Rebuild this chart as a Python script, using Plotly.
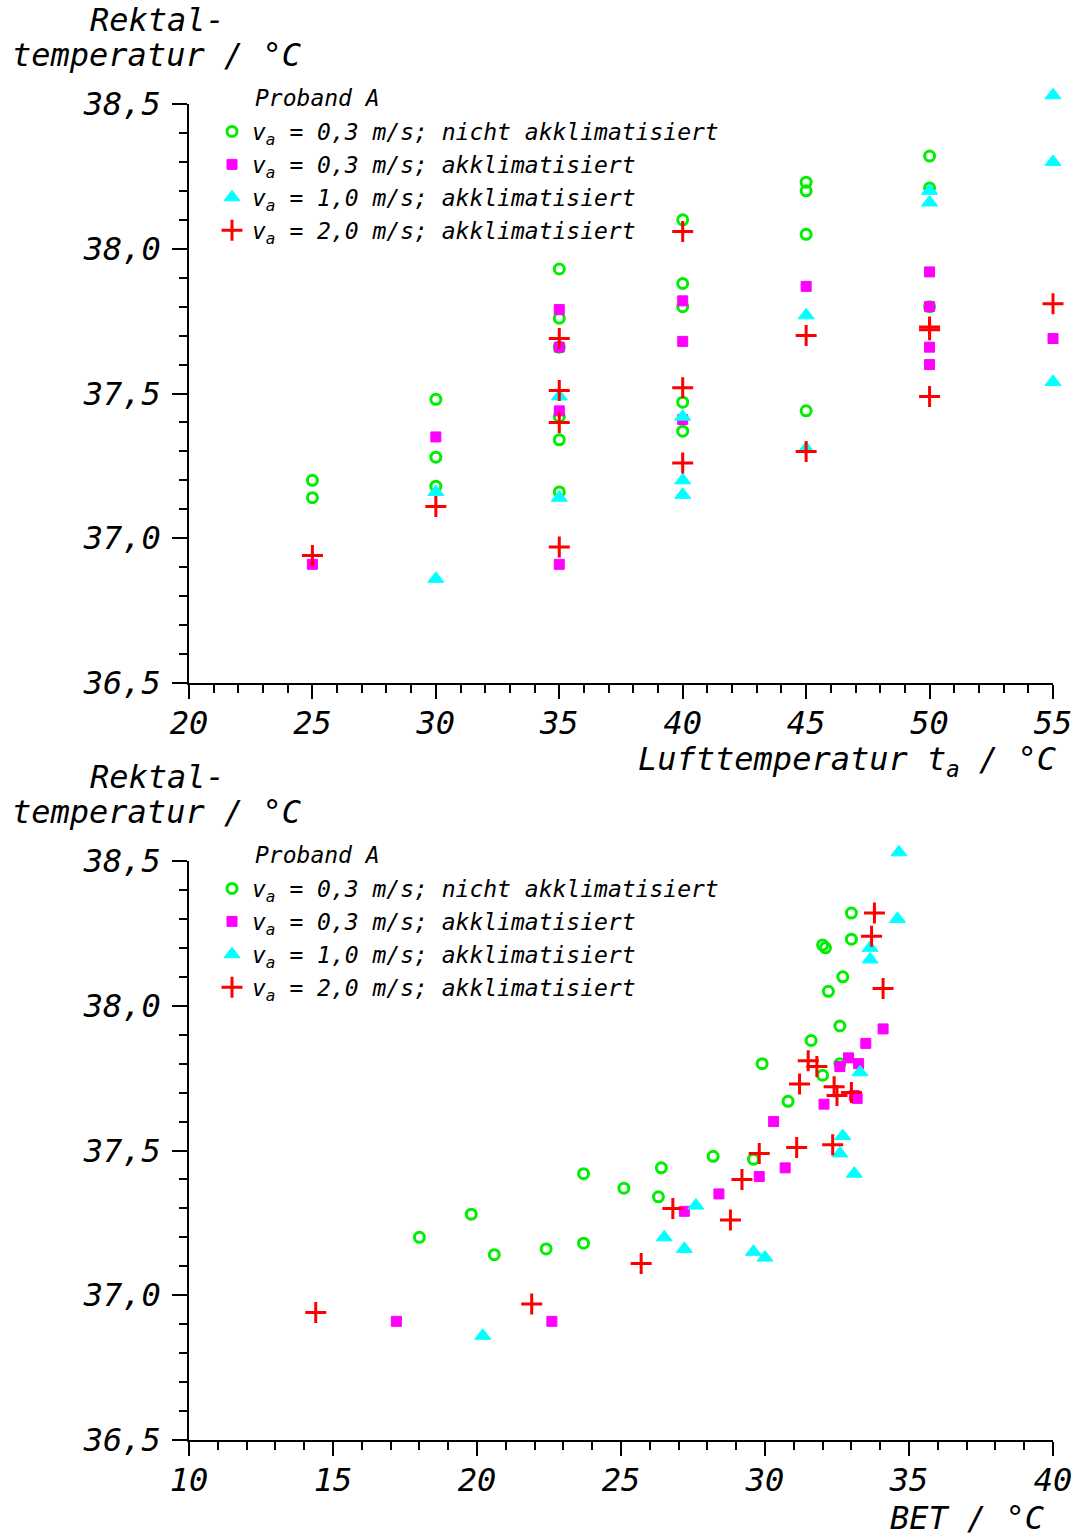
import plotly.graph_objects as go

# ---------------- data: Proband A ----------------
# Upper panel: rectal temperature vs. air temperature t_a
ta_gruen = [25, 25, 30, 30, 30, 35, 35, 35, 35, 35, 35, 40, 40, 40, 40, 40,
            45, 45, 45, 45, 50, 50, 50]
tre_gruen_ta = [37.20, 37.14, 37.48, 37.28, 37.18, 37.93, 37.76, 37.66, 37.42, 37.34, 37.16,
                38.10, 37.88, 37.80, 37.47, 37.37, 38.23, 38.20, 38.05, 37.44,
                38.32, 38.21, 37.80]

ta_magenta = [25, 30, 35, 35, 35, 35, 40, 40, 40, 45, 50, 50, 50, 50, 55]
tre_magenta_ta = [36.91, 37.35, 37.79, 37.66, 37.44, 36.91, 37.82, 37.68, 37.41, 37.87,
                  37.92, 37.80, 37.66, 37.60, 37.69]

ta_cyan = [30, 30, 35, 35, 40, 40, 40, 45, 45, 50, 50, 55, 55, 55]
tre_cyan_ta = [37.16, 36.86, 37.49, 37.14, 37.42, 37.20, 37.15, 37.77, 37.31,
               38.20, 38.16, 38.53, 38.30, 37.54]

ta_rot = [25, 30, 35, 35, 35, 35, 40, 40, 40, 45, 45, 50, 50, 50, 55]
tre_rot_ta = [36.94, 37.11, 37.69, 37.51, 37.40, 36.97, 38.06, 37.52, 37.26, 37.70, 37.30,
              37.73, 37.72, 37.49, 37.81]

# Lower panel: rectal temperature vs. BET
bet_gruen = [18.0, 19.8, 20.6, 22.4, 23.7, 23.7, 25.1, 26.3, 26.4, 28.2, 29.6, 29.9,
             30.8, 31.6, 32.0, 32.2, 32.6, 32.7, 32.0, 32.1, 33.0, 33.0, 32.6]
tre_gruen_bet = [37.20, 37.28, 37.14, 37.16, 37.42, 37.18, 37.37, 37.34, 37.44, 37.48, 37.47, 37.80,
                 37.67, 37.88, 37.76, 38.05, 37.93, 38.10, 38.21, 38.20, 38.23, 38.32, 37.80]

bet_magenta = [17.2, 22.6, 27.2, 28.4, 29.8, 30.7, 30.3, 32.05, 33.2, 33.1, 32.6, 33.25,
               32.9, 33.5, 34.1]
tre_magenta_bet = [36.91, 36.91, 37.29, 37.35, 37.41, 37.44, 37.60, 37.66, 37.68, 37.69, 37.79, 37.80,
                   37.82, 37.87, 37.92]

bet_cyan = [20.2, 26.5, 27.2, 27.6, 29.6, 30.0, 33.1, 32.6, 32.7, 33.3, 33.65, 33.65, 34.6, 34.65]
tre_cyan_bet = [36.86, 37.20, 37.16, 37.31, 37.15, 37.13, 37.42, 37.49, 37.55, 37.77,
                38.16, 38.20, 38.30, 38.53]

bet_rot = [14.4, 21.9, 25.7, 26.8, 28.8, 29.2, 29.8, 31.1, 32.35, 31.2, 32.4, 32.5, 33.0,
           31.5, 31.8, 34.1, 33.7, 33.8]
tre_rot_bet = [36.94, 36.97, 37.11, 37.30, 37.26, 37.40, 37.49, 37.51, 37.52, 37.73, 37.72, 37.69, 37.70,
               37.81, 37.79, 38.06, 38.24, 38.32]

legend_names = [
    "v<sub>a</sub> = 0,3 m/s; nicht akklimatisiert",
    "v<sub>a</sub> = 0,3 m/s; akklimatisiert",
    "v<sub>a</sub> = 1,0 m/s; akklimatisiert",
    "v<sub>a</sub> = 2,0 m/s; akklimatisiert",
]

# ---------------- styles ----------------
W, H = 1086, 1535
FONT = "DejaVu Sans Mono"

marker_styles = [
    dict(symbol="circle-open", size=10, color="#00ee00", line=dict(color="#00ee00", width=3)),
    dict(symbol="square", size=10, color="#ff00ff", line=dict(color="#ff00ff", width=1)),
    dict(symbol="triangle-up", size=14, color="#00ffff", line=dict(color="#00ffff", width=1)),
    dict(symbol="cross-thin", size=15, color="#ff0000", line=dict(color="#ff0000", width=3)),
]


def px_x(x):
    return x / W


def px_y(y):
    return 1 - y / H


# plot-area geometry in pixels
X0, X1 = 189, 1053
TOP_Y0, TOP_Y1 = 683, 104
BOT_Y0, BOT_Y1 = 1440, 861
Y_LO, Y_HI = 36.5, 38.5
Y_PAD = 0.1  # markers may sit just above 38,5 -> draw them on a slightly wider hidden scale

fig = go.Figure()

# empty traces so that the two framed subplots (axes, ticks, labels) get drawn
for xa, ya in (("x", "y"), ("x2", "y2")):
    fig.add_trace(go.Scatter(x=[], y=[], mode="markers", xaxis=xa, yaxis=ya,
                             showlegend=False, hoverinfo="skip"))

top_series = [(ta_gruen, tre_gruen_ta), (ta_magenta, tre_magenta_ta),
              (ta_cyan, tre_cyan_ta), (ta_rot, tre_rot_ta)]
bottom_series = [(bet_gruen, tre_gruen_bet), (bet_magenta, tre_magenta_bet),
                 (bet_cyan, tre_cyan_bet), (bet_rot, tre_rot_bet)]

for (xs, ys), name, mk in zip(top_series, legend_names, marker_styles):
    fig.add_trace(go.Scatter(x=xs, y=ys, mode="markers", name=name, marker=mk,
                             xaxis="x3", yaxis="y3", legend="legend", cliponaxis=False))

for (xs, ys), name, mk in zip(bottom_series, legend_names, marker_styles):
    fig.add_trace(go.Scatter(x=xs, y=ys, mode="markers", name=name, marker=mk,
                             xaxis="x4", yaxis="y4", legend="legend2", cliponaxis=False))

tick_font = dict(family=FONT, size=32, color="black", style="italic")


def xaxis_cfg(lo, hi, dom, anchor):
    return dict(range=[lo, hi], domain=dom, anchor=anchor, tickmode="linear", tick0=lo, dtick=5,
                ticks="outside", ticklen=14, tickwidth=1.5, tickcolor="black",
                minor=dict(dtick=1, ticks="outside", ticklen=8, tickwidth=1.5, tickcolor="black"),
                showline=True, linecolor="black", linewidth=1.5, showgrid=False, zeroline=False,
                tickfont=tick_font, ticklabelstandoff=-3, automargin=False, fixedrange=True)


def yaxis_cfg(dom, anchor):
    return dict(range=[Y_LO, Y_HI], domain=dom, anchor=anchor, tickmode="linear", tick0=Y_LO, dtick=0.5,
                tickformat=".1f", ticks="outside", ticklen=15, tickwidth=1.5, tickcolor="black",
                minor=dict(dtick=0.1, ticks="outside", ticklen=8, tickwidth=1.5, tickcolor="black"),
                showline=True, linecolor="black", linewidth=1.5, showgrid=False, zeroline=False,
                tickfont=tick_font, ticklabelstandoff=5, automargin=False, fixedrange=True)


def hidden_x(lo, hi, anchor):
    # same scale as the visible x axis, one unit wider on each side
    ppu = (X1 - X0) / (hi - lo)
    return dict(range=[lo - 1, hi + 1], domain=[px_x(X0 - ppu), px_x(X1 + ppu)], anchor=anchor,
                visible=False, showgrid=False, zeroline=False, automargin=False, fixedrange=True)


def hidden_y(y0, y1, anchor):
    ppu = (y0 - y1) / (Y_HI - Y_LO)
    return dict(range=[Y_LO - Y_PAD, Y_HI + Y_PAD],
                domain=[px_y(y0 + Y_PAD * ppu), px_y(y1 - Y_PAD * ppu)], anchor=anchor,
                visible=False, showgrid=False, zeroline=False, automargin=False, fixedrange=True)


xdom = [px_x(X0), px_x(X1)]
top_ydom = [px_y(TOP_Y0), px_y(TOP_Y1)]
bot_ydom = [px_y(BOT_Y0), px_y(BOT_Y1)]

legend_font = dict(family=FONT, size=23, color="black", style="italic")


def legend_cfg(top_px):
    return dict(x=px_x(212), y=px_y(top_px), xanchor="left", yanchor="top", font=legend_font,
                bgcolor="rgba(0,0,0,0)", borderwidth=0, itemsizing="trace", tracegroupgap=0)


label_font = dict(family=FONT, size=32, color="black", style="italic")
small_font = dict(family=FONT, size=23, color="black", style="italic")


def text(s, x, y, xanchor, font):
    return dict(text=s, x=px_x(x), y=px_y(y), xref="paper", yref="paper", xanchor=xanchor,
                yanchor="middle", showarrow=False, font=font)


annotations = [
    text("Rektal-", 88, 20, "left", label_font),
    text("temperatur / °C", 10, 55, "left", label_font),
    text("Lufttemperatur t<sub>a</sub> / °C", 1058, 761, "right", label_font),
    text("Proband A", 253, 98, "left", small_font),
    text("Rektal-", 88, 777, "left", label_font),
    text("temperatur / °C", 10, 812, "left", label_font),
    text("BET / °C", 1046, 1518, "right", label_font),
    text("Proband A", 253, 855, "left", small_font),
]

fig.update_layout(
    width=W, height=H,
    margin=dict(l=0, r=0, t=0, b=0, autoexpand=False),
    paper_bgcolor="white", plot_bgcolor="rgba(0,0,0,0)",
    separators=",.",
    font=dict(family=FONT, color="black"),
    xaxis=xaxis_cfg(20, 55, xdom, "y"),
    yaxis=yaxis_cfg(top_ydom, "x"),
    xaxis2=xaxis_cfg(10, 40, xdom, "y2"),
    yaxis2=yaxis_cfg(bot_ydom, "x2"),
    xaxis3=hidden_x(20, 55, "y3"),
    yaxis3=hidden_y(TOP_Y0, TOP_Y1, "x3"),
    xaxis4=hidden_x(10, 40, "y4"),
    yaxis4=hidden_y(BOT_Y0, BOT_Y1, "x4"),
    legend=legend_cfg(110),
    legend2=legend_cfg(867),
    annotations=annotations,
)

fig.write_html("out.html")
